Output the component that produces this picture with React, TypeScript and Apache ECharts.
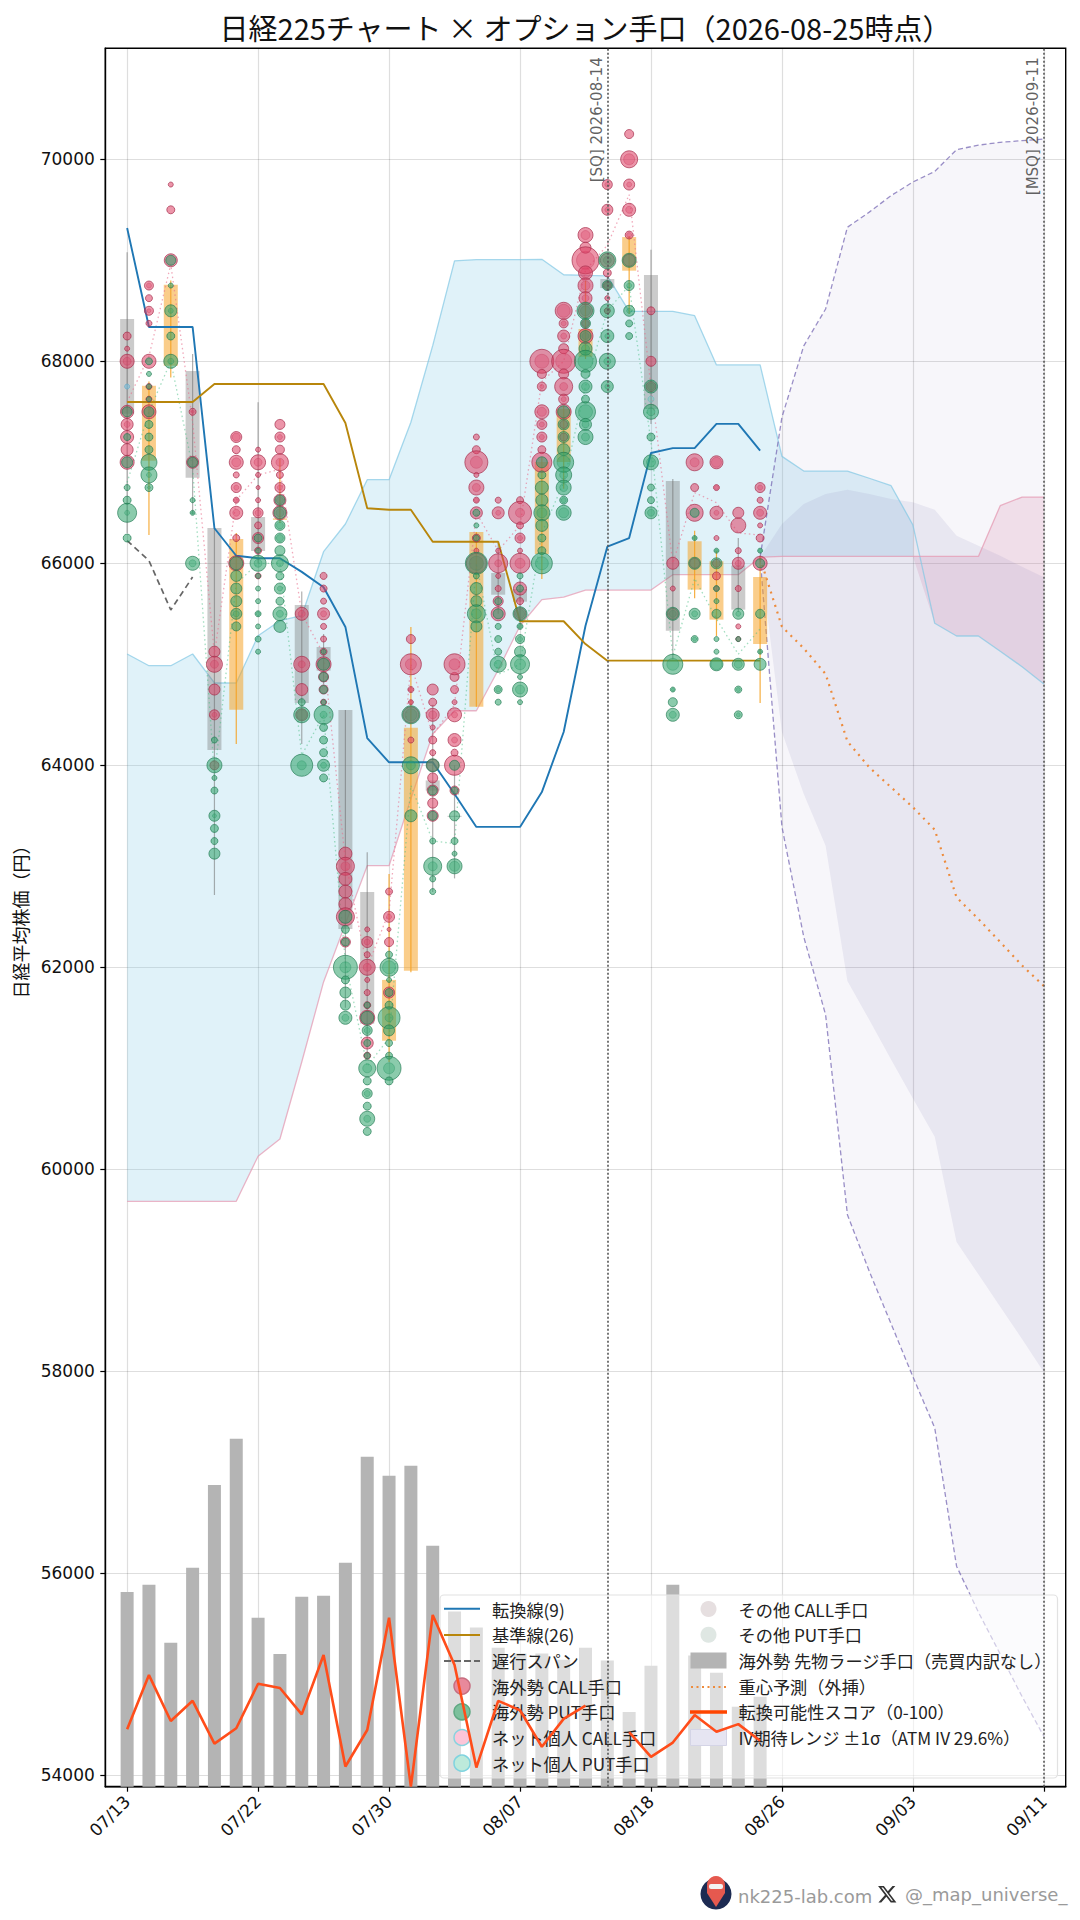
import React, { useEffect, useRef } from "react";
import * as echarts from "echarts";

const dates = ["07/13","07/14","07/15","07/16","07/17","07/21","07/22","07/23","07/24","07/27","07/28","07/29","07/30","07/31","08/03","08/04","08/05","08/06","08/07","08/10","08/12","08/13","08/14","08/17","08/18","08/19","08/20","08/21","08/24","08/25","08/26","08/27","08/28","08/31","09/01","09/02","09/03","09/04","09/07","09/08","09/09","09/10","09/11"];
const priceTicks = [54000,56000,58000,60000,62000,64000,66000,68000,70000];

const tenkan = [69320,68340,68340,68340,66347,66075,66050,66050,65915,65763,65370,64270,64030,64030,64030,63716,63390,63390,63390,63735,64330,65382,66165,66250,67092,67140,67140,67380,67380,67115];
const kijun = [67597,67597,67597,67597,67775,67775,67775,67775,67775,67775,67389,66545,66530,66530,66214,66214,66214,66214,65426,65426,65426,65200,65036,65036,65036,65036,65036,65036,65036,65036];
const chikou = [66224,66026,65538,65864];
const spanBlue = [65102,64986,64986,65102,64815,64815,65283,65432,65481,66115,66389,66828,66828,67397,68155,68995,69006,69006,69006,69010,68857,68850,68845,68495,68495,68495,68452,67964,67964,67964,67059,66913,66913,66913,66842,66768,66379,65406,65280,65280,65130,64976,64805];
const spanPink = [59683,59683,59683,59683,59683,59683,60130,60300,61062,61855,62430,63006,63006,63668,64310,64540,64540,64943,65382,65640,65666,65735,65735,65735,65735,65887,65887,65887,65887,66060,66068,66068,66068,66068,66068,66068,66068,66068,66068,66068,66570,66656,66656];

const ivOuterUpper = [66060,67447,68153,68518,69327,69477,69640,69775,69880,70095,70140,70168,70185,70200];
const ivOuterLower = [66060,63390,62300,61530,59550,58990,58470,57946,57440,56070,55615,55200,54780,54385];
const ivInnerUpper = [66060,66389,66587,66686,66729,66686,66637,66604,66531,66273,66174,66075,65966,65861];
const ivInnerLower = [66060,64330,63716,63204,61865,61480,61086,60702,60322,59280,58960,58640,58320,57990];
const centroid = [66050,65372,65158,64904,64237,63980,63782,63584,63362,62693,62478,62250,62018,61815];

const callPath = [67597,68050,68960,67400,65100,66625,66875,66930,65500,65100,63050,62000,62550,65000,64300,64600,66500,66125,66375,67800,68000,68900,69150,69650,67750,66000,66700,66600,66300,66280];
const putPath = [66800,67500,68000,66950,63900,65800,66000,66000,64100,64500,62050,61020,61300,63800,63250,63225,66000,64900,65000,66300,66800,67750,68500,68750,67200,65080,65850,65450,65100,65350];

const futures = [560,581,414,630,868,1001,486,382,546,549,644,949,894,923,693,504,458,400,383,383,365,400,363,215,348,581,377,328,230,259];
const score = [16.5,32.1,18.9,24.7,12.4,16.8,29.6,28.4,20.8,37.9,5.8,16.3,48.6,0,49.4,35,5.5,24.7,22,11.5,19.5,23.3,null,15.7,8.6,12.7,20.6,15.8,18,13.2];

// day, open, close, low, high
const candles = [
[0,68419,67480,66300,69080],[1,67016,67757,66280,67800],[2,67956,68757,67840,68800],[3,67904,66848,66487,68072],
[4,66349,64151,62717,66349],[5,64550,66240,64211,66300],[6,66458,66122,66000,67594],[7,66430,66445,66400,67032],
[8,65587,64617,64211,65720],[9,65171,64937,64800,65300],[10,64547,62380,61600,64547],[11,62746,61440,61100,63140],
[12,61273,61875,61063,62924],[13,61966,64371,61950,65369],[14,63850,63750,62746,64600],[15,63500,63490,62880,64000],
[16,64580,66310,64580,66310],[17,65904,65689,65500,66200],[18,65745,65620,65400,65850],[19,66092,67003,65845,67050],
[20,67003,67528,66737,67560],[21,68045,68320,68023,68798],[22,68815,68725,68700,68830],[23,68897,69230,68469,69240],
[24,68854,67528,67380,69105],[25,66815,65333,65050,66835],[26,65739,66218,65655,66323],[27,65442,66020,65280,66125],
[28,65977,65541,65518,66250],[29,65201,65864,64617,66075],
];

// day, strike, diameter, optional inner diameter
const foreignCall = [
[0,68250,8],[0,68125,5],[0,68000,14,8],[0,67500,13],[0,67375,12,6],[0,67250,13],[0,67125,12],[0,67000,14],
[1,68750,9,5],[1,68625,7],[1,68500,9,4],[1,68375,6],[1,68000,14],[1,67750,6],[1,67625,6],[1,67500,14],
[2,69750,5],[2,69500,8],[2,69000,13],
[3,67500,7,3],[3,67000,12],
[4,65125,11],[4,65000,16,8],[4,64750,11],[4,64500,10,5],[4,64000,9],
[5,67250,11,8],[5,67125,8],[5,67000,14,9],[5,66875,6],[5,66750,10,5],[5,66625,6,4],[5,66500,13,7],[5,66250,7],[5,66000,15],
[6,67125,5],[6,67000,15,8],[6,66875,5],[6,66750,4],[6,66625,5],[6,66500,10,6],[6,66375,7],[6,66250,11],[6,66125,7],[6,65875,6],
[7,67375,10],[7,67250,10,5],[7,67125,9],[7,67000,17,8],[7,66875,7],[7,66750,10,5],[7,66625,12],[7,66500,14],
[8,65500,13,7],[8,65000,16,7],[8,64750,12],[8,64500,12],
[9,65875,7],[9,65750,7],[9,65625,6],[9,65500,12,6],[9,65375,6],[9,65250,6],[9,65125,7],[9,65000,15],[9,64875,10],[9,64750,9],[9,64625,6],
[10,63125,13],[10,63000,18,9],[10,62875,13],[10,62750,13],[10,62625,13],[10,62500,18],[10,62250,10],
[11,62375,5],[11,62250,11,6],[11,62125,6],[11,62000,16,8],[11,61875,5],[11,61750,6],[11,61625,7],[11,61500,15],[11,61250,12],[11,61125,7],
[12,62750,7],[12,62500,11,5],[12,62375,4],[12,62250,9],[12,61750,11],
[13,65250,9],[13,65000,21,11],[13,64750,6,4],[13,64625,5,3],[13,64500,16],[13,64250,6],
[14,64750,11],[14,64625,8],[14,64500,13,8],[14,64375,5],[14,64250,8],[14,64125,6],[14,64000,12],[14,63875,10],[14,63750,11],[14,63625,10],[14,63500,11],
[15,64875,9],[15,65000,21,11],[15,64750,8],[15,64625,5],[15,64500,14,6],[15,64250,13,6],[15,64125,7],[15,64000,20],[15,63750,9],
[16,67250,6],[16,67125,8],[16,67000,23,12],[16,66875,5],[16,66750,15,8],[16,66625,6,4],[16,66500,12],[16,66250,8],[16,66125,5],[16,66000,20],
[17,66625,6],[17,66500,12,5],[17,66125,5],[17,66000,19,7],[17,65875,5],[17,65750,6],[17,65625,10],[17,65500,14],
[18,66625,7],[18,66500,23,9],[18,66375,7],[18,66250,10,5],[18,66125,5],[18,66000,20,10],[18,65750,13],[18,65625,7],[18,65500,12],
[19,68000,24,14],[19,67875,9],[19,67750,9,4],[19,67500,14,9],[19,67375,10,5],[19,67250,10,5],[19,67125,8],[19,67000,20],
[20,68500,17,13],[20,68375,9,5],[20,68250,12,6],[20,68125,10],[20,68000,24,16],[20,67875,10],[20,67750,18,8],[20,67625,10,5],[20,67500,15],[20,67375,8],[20,67250,8],
[21,69250,15,9],[21,69125,11],[21,69000,27,18],[21,68875,14,10],[21,68750,15,9],[21,68625,13,7],[21,68500,14],[21,68375,8],[21,68250,15],
[22,69750,10,5],[22,69500,11,5],[22,69000,14],[22,68875,8],[22,68750,8],[22,68625,5],[22,68500,6],
[23,70250,9],[23,70000,17,11],[23,69750,11,5],[23,69500,13,7],[23,69250,8,5],[23,69000,12],
[24,68500,8],[24,68000,10],[24,67750,10],
[25,66000,12],[25,65750,5],[25,65500,11],
[26,67000,17,9],[26,66750,8],[26,66500,17],[26,66000,10],
[27,67000,13,10],[27,66750,6,4],[27,66500,13,5],[27,66250,5],[27,66000,8],[27,65875,8],[27,65750,5],
[28,66500,11],[28,66375,15],[28,66125,6],[28,66000,12,6],[28,65750,6],[28,65375,5],[28,65250,5],
[29,66750,10,5],[29,66625,6],[29,66500,13,7],[29,66375,5],[29,66250,8],[29,66000,14],
];
const foreignPut = [
[0,67500,10],[0,67250,7],[0,67000,11],[0,66750,6],[0,66625,8],[0,66500,19,5],[0,66250,8],
[1,68000,7],[1,67875,5],[1,67750,5],[1,67625,5],[1,67500,10],[1,67375,8],[1,67250,8],[1,67125,8],[1,67000,16],[1,66875,16,5],[1,66750,8,3],
[2,69000,10],[2,68750,5],[2,68500,12,5],[2,68250,8],[2,68000,14,6],
[3,67000,10],[3,66625,5],[3,66500,5,3],[3,66000,14,7],
[4,64250,6],[4,64000,15],[4,63875,5],[4,63750,7],[4,63500,11,4],[4,63375,8],[4,63250,7],[4,63125,11],
[5,66000,13],[5,65875,11],[5,65750,11],[5,65625,11],[5,65500,11,6],[5,65375,9],
[6,66250,8],[6,66125,5],[6,66000,16,8],[6,65875,5],[6,65750,5],[6,65625,5],[6,65500,6,4],[6,65375,5],[6,65250,6],[6,65125,5],
[7,66625,10,7],[7,66500,12,8],[7,66375,10,7],[7,66250,10,7],[7,66125,10],[7,66000,17,7],[7,65875,8],[7,65750,11,5],[7,65625,8],[7,65500,14,7],[7,65375,12],
[8,64625,7],[8,64500,16,10],[8,64000,22,9],
[9,65125,5],[9,65000,12],[9,64875,9],[9,64750,8],[9,64625,5],[9,64500,19,7],[9,64375,8],[9,64250,8],[9,64125,8],[9,64000,12,6],[9,63875,8],
[10,62500,13],[10,62375,8],[10,62250,8],[10,62000,24,11],[10,61875,8],[10,61750,11],[10,61625,10],[10,61500,13,7],
[11,61625,6],[11,61500,13],[11,61375,10,6],[11,61250,7],[11,61125,6],[11,61000,17,9],[11,60875,8],[11,60750,10,6],[11,60625,8],[11,60500,15,7],[11,60375,8],
[12,62125,7],[12,62000,18,13],[12,61875,5],[12,61750,8],[12,61625,8],[12,61500,22,8],[12,61375,11],[12,61250,7],[12,61125,7],[12,61000,24,11],[12,60875,8],
[13,64500,18,12],[13,64000,17,9],[13,63500,12],
[14,64000,13],[14,63750,9],[14,63500,9],[14,63250,6],[14,63000,18,9],[14,62875,6],[14,62750,6],
[15,64000,10],[15,63750,7],[15,63500,10],[15,63250,7],[15,63125,5],[15,63000,15,10],
[16,66500,7],[16,66375,5],[16,66250,6],[16,66000,22,14],[16,65875,6],[16,65750,12],[16,65625,11],[16,65500,18,10],[16,65375,11],
[17,65625,7],[17,65500,10],[17,65375,6],[17,65250,7],[17,65125,7],[17,65000,16,8],[17,64750,8,5],[17,64625,6],
[18,65875,6],[18,65750,7],[18,65500,14,9],[18,65375,6,4],[18,65250,9,5],[18,65125,11],[18,65000,19,11],[18,64875,5],[18,64750,15,9],[18,64625,5],
[19,67000,11],[19,66875,8],[19,66750,13],[19,66625,12],[19,66500,16,10],[19,66375,12],[19,66250,8],[19,66125,8],[19,66000,21,13],
[20,67500,12],[20,67375,11],[20,67250,11],[20,67125,12],[20,67000,20,13],[20,66875,16,8],[20,66750,15,8],[20,66625,8,5],[20,66500,15,10],
[21,68500,17,10],[21,68375,10,6],[21,68250,11,7],[21,68125,13,8],[21,68000,22,15],[21,67875,9],[21,67750,13,8],[21,67625,8],[21,67500,20,14],[21,67375,12,7],[21,67250,15,8],
[22,69000,17,8],[22,68750,10,6],[22,68500,14,6],[22,68250,13,5],[22,68000,16,7],[22,67750,12,5],
[23,69000,14],[23,68750,10,5],[23,68500,11,5],[23,68375,7],[23,68250,7],
[24,67750,13,7],[24,67500,15,8],[24,67250,8],[24,67000,15,9],[24,66750,7],[24,66625,7],[24,66500,12,7],
[25,65500,13,7],[25,65000,20,12],[25,64750,5,3],[25,64625,9],[25,64500,13,7],
[26,66500,9],[26,66250,5,3],[26,66000,12],[26,65500,11,6],[26,65250,7,4],
[27,66125,5,3],[27,66000,11],[27,65750,6],[27,65625,5],[27,65500,9],[27,65250,5],[27,65125,5],[27,65000,13,11],
[28,65500,11,5],[28,65250,5],[28,65000,12,8],[28,64750,7,4],[28,64500,8,4],
[29,66125,5,3],[29,66000,9],[29,65500,9],[29,65125,5,3],[29,65000,12],
];
const retailCall = [[0,67750,5]];
const retailPut = [[24,67625,6]];

const N = {
  tenkan: "転換線(9)", kijun: "基準線(26)", chikou: "遅行スパン",
  fc: "海外勢 CALL手口", fp: "海外勢 PUT手口", rc: "ネット個人 CALL手口", rp: "ネット個人 PUT手口",
  oc: "その他 CALL手口", op: "その他 PUT手口", fut: "海外勢 先物ラージ手口（売買内訳なし）",
  cen: "重心予測（外挿）", sc: "転換可能性スコア（0-100）", iv: "IV期待レンジ ±1σ（ATM IV 29.6%）",
};

const CJK = "Noto Sans CJK JP";
const NUM = "DejaVu Sans";
const X_LOGO = "M18.244 2.25h3.308l-7.227 8.26 8.502 11.24H16.17l-5.214-6.817L4.99 21.75H1.68l7.73-8.835L1.254 2.25H8.08l4.713 6.231zm-1.161 17.52h1.833L7.084 4.126H5.117z";
echarts.graphic.registerShape("xlogo", echarts.graphic.extendPath(X_LOGO, {}) as any);

const pos = (i: number) => i + 1;
const series2d = (arr: (number | null)[], from = 0) => arr.map((v, i) => [pos(i + from), v]);
const showTick = (idx: number) => idx >= 1 && idx <= 43 && (idx - 1) % 6 === 0;

function bandSeries(name: string, upper: number[], lower: number[], from: number, fill: string, z: number) {
  return {
    name, type: "custom", z, silent: true, data: [[pos(from), upper[0]]],
    encode: { x: 0, y: 1 }, itemStyle: { color: fill },
    renderItem: (_p: any, api: any) => {
      const pts = upper.map((v, i) => api.coord([pos(i + from), v]));
      for (let i = lower.length - 1; i >= 0; i--) pts.push(api.coord([pos(i + from), lower[i]]));
      return { type: "polygon", shape: { points: pts }, style: { fill } };
    },
  };
}

function cloudRuns(a: number[], b: number[]) {
  const runs: { x: number[]; top: number[]; bottom: number[] }[] = [];
  let cur: { x: number[]; top: number[]; bottom: number[] } | null = null;
  for (let i = 0; i < a.length; i++) {
    if (a[i] >= b[i]) {
      if (!cur) { cur = { x: [], top: [], bottom: [] }; runs.push(cur); }
      cur.x.push(i); cur.top.push(a[i]); cur.bottom.push(b[i]);
    }
    if (i < a.length - 1 && (a[i] - b[i]) * (a[i + 1] - b[i + 1]) < 0) {
      const t = (a[i] - b[i]) / (a[i] - b[i] - a[i + 1] + b[i + 1]);
      const v = a[i] + t * (a[i + 1] - a[i]);
      if (!cur) { cur = { x: [], top: [], bottom: [] }; runs.push(cur); }
      cur.x.push(i + t); cur.top.push(v); cur.bottom.push(v);
      if (a[i] >= b[i]) cur = null;
    }
  }
  return runs;
}

function cloudSeries(a: number[], b: number[], fill: string) {
  const runs = cloudRuns(a, b);
  return {
    type: "custom", z: 1, silent: true, data: runs.map((_r, i) => [pos(i), a[i]]),
    encode: { x: 0, y: 1 },
    renderItem: (p: any, api: any) => {
      const r = runs[p.dataIndex];
      const pts = r.x.map((x, i) => api.coord([x + 1, r.top[i]]));
      for (let i = r.x.length - 1; i >= 0; i--) pts.push(api.coord([r.x[i] + 1, r.bottom[i]]));
      return { type: "polygon", shape: { points: pts }, style: { fill } };
    },
  };
}

const bubble = (name: string, data: number[][], color: string, border: string, z = 2) => ({
  name, type: "scatter", z, data: data.map((r) => [pos(r[0]), r[1], r[2]]),
  symbol: "circle", symbolSize: (d: number[]) => d[2],
  itemStyle: { color, borderColor: border, borderWidth: 1, opacity: 1 }, silent: true,
});
const inner = (rows: number[][]) => rows.filter((r) => r[3]).map((r) => [r[0], r[1], r[3]]);

const line = (name: string | undefined, data: any[], color: string, width: number, type: any = "solid", z = 2) => ({
  name, type: "line", z, data, symbol: "none", showSymbol: false, connectNulls: false, silent: true,
  lineStyle: { color, width, type }, itemStyle: { color },
});

const vline = (date: string, text: string) => ({
  type: "line", z: 2, data: [], silent: true, symbol: "none",
  markLine: {
    silent: true, symbol: "none", animation: false,
    lineStyle: { color: "#555", width: 1.6, type: [2, 2] },
    data: [{
      xAxis: date,
      label: { show: true, formatter: text, position: "insideEndTop", distance: [9, 3], fontFamily: NUM, fontSize: 15, color: "rgba(70,70,70,0.85)" },
    }],
  },
});

const legendLine = (x: number, y: number, w: number, stroke: string, lineWidth: number, lineDash?: number[]) => ({
  type: "line", z: 5, silent: true,
  shape: { x1: x, y1: y, x2: x + w, y2: y },
  style: { stroke, lineWidth, lineDash },
});

export default function App() {
  const ref = useRef<HTMLDivElement>(null);
  useEffect(() => {
    document.body.style.margin = "0";
    if (!ref.current) return;
    const chart = echarts.init(ref.current, undefined, { renderer: "svg" });
    const cats = ["", ...dates, ""];
    const legendText = { fontFamily: CJK, fontSize: 17.2, color: "#222", lineHeight: 18, padding: [0, 0, 0, 7] };
    const legendCommon = {
      orient: "vertical", top: 1600, itemWidth: 36, itemHeight: 16, itemGap: 7.7, selectedMode: false,
      textStyle: legendText, padding: 0, z: 4,
    };
    const option: any = {
      animation: false,
      backgroundColor: "#fff",
      title: {
        text: "日経225チャート × オプション手口（2026-08-25時点）",
        left: 580.5, top: 7, textAlign: "center",
        textStyle: { fontFamily: CJK, fontSize: 29, fontWeight: "normal", color: "#111" },
      },
      grid: { left: 105.3, top: 48.3, width: 960.4, height: 1738.4, show: true, borderColor: "#000", borderWidth: 1.4, backgroundColor: "transparent" },
      xAxis: {
        type: "category", boundaryGap: false, data: cats,
        axisLine: { lineStyle: { color: "#000", width: 1.4 } },
        axisTick: { interval: (i: number) => showTick(i), length: 5, lineStyle: { color: "#000", width: 1.2 } },
        axisLabel: { interval: (i: number) => showTick(i), rotate: 45, fontFamily: NUM, fontSize: 17, color: "#111", margin: 12, hideOverlap: false },
        splitLine: { show: true, interval: (i: number) => showTick(i), lineStyle: { color: "rgba(0,0,0,0.13)", width: 1.2 } },
      },
      yAxis: [
        {
          type: "value", min: 53887, max: 71099, scale: true,
          name: "日経平均株価（円）", nameLocation: "middle", nameGap: 76,
          nameTextStyle: { fontFamily: CJK, fontSize: 18, color: "#111" },
          axisLine: { show: true, lineStyle: { color: "#000", width: 1.4 } },
          axisTick: { show: true, length: 5, customValues: priceTicks, lineStyle: { color: "#000", width: 1.2 } },
          axisLabel: { customValues: priceTicks, formatter: (v: number) => String(v), fontFamily: NUM, fontSize: 17, color: "#111", margin: 10.5 },
          splitLine: { show: true, lineStyle: { color: "rgba(0,0,0,0.13)", width: 1.2 } },
        },
        { type: "value", min: 0, max: 5000, show: false, splitLine: { show: false } },
        { type: "value", min: 0, max: 500, show: false, splitLine: { show: false } },
      ],
      legend: [
        { ...legendCommon, left: 444, data: [
          { name: N.tenkan, icon: "none" }, { name: N.kijun, icon: "none" }, { name: N.chikou, icon: "none" },
          { name: N.fc, icon: "circle", itemStyle: { color: "#e8899b", borderColor: "#c76e80", borderWidth: 1.5 } },
          { name: N.fp, icon: "circle", itemStyle: { color: "#7cc09c", borderColor: "#5fa882", borderWidth: 1.5 } },
          { name: N.rc, icon: "circle", itemStyle: { color: "#fcc5d8", borderColor: "#88d3df", borderWidth: 1.5 } },
          { name: N.rp, icon: "circle", itemStyle: { color: "#bdeadb", borderColor: "#7fd3df", borderWidth: 1.5 } },
        ] },
        { ...legendCommon, left: 690, data: [
          { name: N.oc, icon: "circle", itemStyle: { color: "#e6dfe0", borderColor: "#e6dfe0", borderWidth: 0 } },
          { name: N.op, icon: "circle", itemStyle: { color: "#dfe7e3", borderColor: "#dfe7e3", borderWidth: 0 } },
          { name: N.fut, icon: "rect", itemStyle: { color: "#b4b4b4" } },
          { name: N.cen, icon: "none" },
          { name: N.sc, icon: "none" },
          { name: N.iv, icon: "rect", itemStyle: { color: "#e6e5f2", borderColor: "#d4d4e6", borderWidth: 1 } },
        ] },
      ],
      graphic: [
        { type: "rect", z: 3, silent: true, shape: { x: 440, y: 1595, width: 617.5, height: 183, r: 4 }, style: { fill: "rgba(255,255,255,0.55)", stroke: "#e2e2e2", lineWidth: 1.2 } },
        legendLine(444, 1608.7, 36, "#1f77b4", 2),
        legendLine(444, 1635, 36, "#b8860b", 2),
        legendLine(444, 1661, 36, "#666", 2, [7, 3]),
        legendLine(690, 1712, 37, "#ff4500", 3.5),
        legendLine(691, 1687, 36, "#ed8b3c", 2, [2, 3.5]),
        { type: "circle", z: 6, silent: true, shape: { cx: 716, cy: 1894, r: 15.5 }, style: { fill: "#1d2b52" } },
        { type: "polygon", z: 7, silent: true, shape: { points: [[707, 1886], [725, 1886], [725, 1893], [716, 1907], [707, 1893]] }, style: { fill: "#e5594f" } },
        { type: "circle", z: 7, silent: true, shape: { cx: 716, cy: 1885, r: 9 }, style: { fill: "#e5594f" } },
        { type: "rect", z: 8, silent: true, shape: { x: 709, y: 1884, width: 14, height: 5, r: 2 }, style: { fill: "#f3f3f3" } },
        { type: "text", z: 7, silent: true, x: 738, y: 1896, style: { text: "nk225-lab.com", fill: "#9a9a9a", font: `18px "DejaVu Sans"`, textVerticalAlign: "middle" } },
        { type: "xlogo", z: 7, silent: true, x: 877, y: 1884, scaleX: 0.85, scaleY: 0.85, style: { fill: "#333" } },
        { type: "text", z: 7, silent: true, x: 905, y: 1894, style: { text: "@_map_universe_", fill: "#9a9a9a", font: `18px "DejaVu Sans"`, textVerticalAlign: "middle" } },
      ],
      series: [
        cloudSeries(spanBlue, spanPink, "rgba(135,205,230,0.26)"),
        cloudSeries(spanPink, spanBlue, "rgba(220,130,165,0.2)"),
        line(undefined, series2d(spanBlue), "rgba(130,200,228,0.7)", 1.3, "solid", 1),
        line(undefined, series2d(spanPink), "rgba(228,150,175,0.7)", 1.3, "solid", 1),
        bandSeries(N.iv, ivOuterUpper, ivOuterLower, 29, "rgba(118,108,170,0.06)", 1),
        bandSeries("ivInner", ivInnerUpper, ivInnerLower, 29, "rgba(118,108,170,0.11)", 1),
        line(undefined, series2d(ivOuterUpper, 29), "rgba(120,105,180,0.75)", 1.3, [5, 3], 1),
        line(undefined, series2d(ivOuterLower, 29), "rgba(120,105,180,0.75)", 1.3, [5, 3], 1),
        {
          name: N.fut, type: "bar", z: 1, yAxisIndex: 1, barWidth: 13, silent: true,
          data: series2d(futures), itemStyle: { color: "#b4b4b4" },
        },
        line(undefined, series2d(callPath), "rgba(232,110,140,0.6)", 1.3, [1.5, 3]),
        line(undefined, series2d(putPath), "rgba(70,190,130,0.5)", 1.3, [1.5, 3]),
        vline("08/14", "[SQ] 2026-08-14"),
        vline("09/11", "[MSQ] 2026-09-11"),
        bubble(N.oc, inner(foreignCall), "rgba(216,60,95,0.32)", "rgba(170,50,80,0.35)"),
        bubble(N.op, inner(foreignPut), "rgba(40,165,105,0.32)", "rgba(30,125,85,0.35)"),
        bubble(N.fc, foreignCall, "rgba(220,62,98,0.55)", "rgba(165,45,75,0.7)"),
        bubble(N.fp, foreignPut, "rgba(44,160,104,0.55)", "rgba(30,120,80,0.65)"),
        bubble(N.rc, retailCall, "rgba(120,190,220,0.6)", "rgba(100,170,200,0.7)"),
        bubble(N.rp, retailPut, "rgba(120,200,190,0.4)", "rgba(100,190,190,0.6)"),
        {
          type: "custom", z: 2, silent: true,
          data: candles.map((c) => [pos(c[0]), c[1], c[2], c[3], c[4]]),
          encode: { x: 0, y: [1, 2, 3, 4] },
          renderItem: (_p: any, api: any) => {
            const xv = api.value(0), o = api.value(1), c = api.value(2), lo = api.value(3), hi = api.value(4);
            const up = c >= o;
            const a = api.coord([xv, Math.max(o, c)]), b = api.coord([xv, Math.min(o, c)]);
            const h = api.coord([xv, hi]), l = api.coord([xv, lo]);
            const body = up ? "rgba(245,160,30,0.52)" : "rgba(110,110,110,0.36)";
            const wick = up ? "rgba(245,160,30,0.85)" : "rgba(110,110,110,0.55)";
            return {
              type: "group", children: [
                { type: "rect", shape: { x: a[0] - 7, y: a[1], width: 14, height: Math.max(1.2, b[1] - a[1]) }, style: { fill: body } },
                { type: "line", shape: { x1: a[0], y1: h[1], x2: a[0], y2: l[1] }, style: { stroke: wick, lineWidth: 1.2 } },
              ],
            };
          },
        },
        line(N.tenkan, series2d(tenkan), "#1f77b4", 1.9),
        line(N.kijun, series2d(kijun), "#b8860b", 1.9),
        line(N.chikou, series2d(chikou), "#666", 1.7, [6, 4]),
        line(N.cen, series2d(centroid, 29), "#ed8b3c", 2.2, [2, 5]),
        { ...line(N.sc, series2d(score), "#ff4d1a", 2.6, "solid", 5), yAxisIndex: 2 },
      ],
    };
    chart.setOption(option);
    return () => chart.dispose();
  }, []);
  return <div ref={ref} style={{ width: 1080, height: 1920 }} />;
}
